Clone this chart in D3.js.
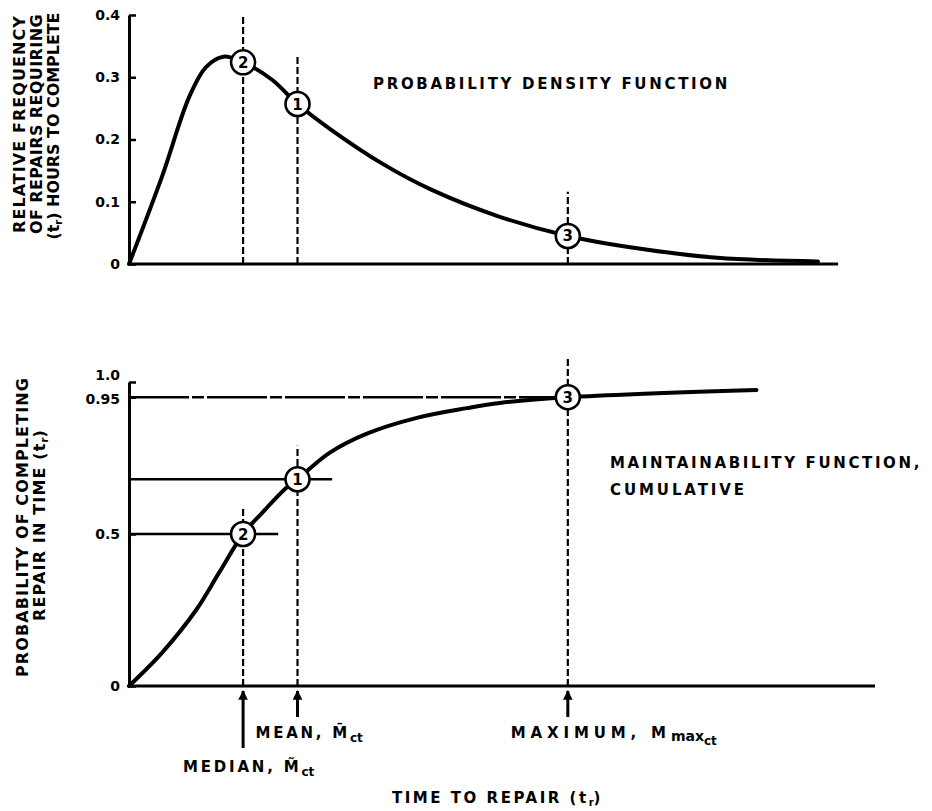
<!DOCTYPE html>
<html>
<head>
<meta charset="utf-8">
<script src="https://cdn.jsdelivr.net/npm/d3@7"></script>
<style>
  body { margin: 0; background: #fff; }
  text { font-family: "DejaVu Sans", "Liberation Sans", sans-serif; font-weight: bold; fill: #000; }
</style>
</head>
<body>
<svg id="chart" width="932" height="811"></svg>
<script>
// time to repair (arbitrary units) and the two functions
const pdfTime  = [0, 0.75, 1.37, 1.75, 2.15, 2.6, 3.26, 3.84, 4.56, 5.8, 6.9, 8.4, 10, 11.5, 13.4, 15.7];
const pdfValue = [0, 0.14, 0.268, 0.316, 0.333, 0.324, 0.296, 0.257, 0.218, 0.16, 0.119, 0.077, 0.045, 0.026, 0.01, 0.004];

const cdfTime  = [0, 0.75, 1.53, 2.05, 2.6, 3.03, 3.58, 3.84, 4.56, 5.42, 6.56, 7.7, 8.45, 10, 14.3];
const cdfValue = [0, 0.109, 0.25, 0.372, 0.5, 0.569, 0.651, 0.68, 0.766, 0.83, 0.882, 0.914, 0.931, 0.95, 0.974];

// marked points: median (2), mean (1), maximum (3)
const markerId   = ["2", "1", "3"];
const markerTime = [2.6, 3.84, 10];
const markerPdf  = [0.324, 0.257, 0.045];
const markerCdf  = [0.5, 0.68, 0.95];
const guideTopPdf = [0.4, 0.335, 0.116];
const guideTopCdf = [0.59, 0.79, 1.08];
const levelEnd    = [3.4, 4.63, 10];

const pdfTicks = [0, 0.1, 0.2, 0.3, 0.4];
const pdfTickLabels = ["0", "0.1", "0.2", "0.3", "0.4"];
const cdfTicks = [0, 0.5, 0.95, 1.0];
const cdfTickLabels = ["0", "0.5", "0.95", "1.0"];

const svg = d3.select("#chart");

// scales
const x = d3.scaleLinear().domain([0, 17]).range([129, 875]);
const yTop = d3.scaleLinear().domain([0, 0.4]).range([264, 15]);
const yBot = d3.scaleLinear().domain([0, 1]).range([686, 382]);

svg.append("defs").append("marker")
  .attr("id", "arrow")
  .attr("viewBox", "0 0 10 10")
  .attr("refX", 9).attr("refY", 5)
  .attr("markerWidth", 4).attr("markerHeight", 3.2)
  .attr("markerUnits", "strokeWidth")
  .attr("orient", "auto")
  .append("path").attr("d", "M0,0 L10,5 L0,10 z").attr("fill", "#000");

// y axes with inward ticks
function drawAxis(scale, ticks, labels) {
  const g = svg.append("g")
    .attr("transform", `translate(${x(0)},0)`)
    .call(d3.axisLeft(scale).tickValues(ticks)
      .tickFormat((d, i) => labels[i])
      .tickSizeInner(-7).tickSizeOuter(0).tickPadding(9));
  g.select(".domain").attr("stroke", "#000").attr("stroke-width", 3);
  g.selectAll(".tick line").attr("stroke", "#000").attr("stroke-width", 2.5);
  g.selectAll(".tick text")
    .style("font-family", "'DejaVu Sans', sans-serif")
    .style("font-weight", "bold").style("font-size", "14px");
  return g;
}
drawAxis(yTop, pdfTicks, pdfTickLabels);
const botAxis = drawAxis(yBot, cdfTicks, cdfTickLabels);
botAxis.selectAll(".tick text").filter(d => d === 1).attr("dy", "-0.2em");
botAxis.selectAll(".tick text").filter(d => d === 0.95).attr("dy", "0.45em");

// baselines
svg.append("line")
  .attr("x1", x(0)).attr("x2", x(16.16))
  .attr("y1", yTop(0)).attr("y2", yTop(0))
  .attr("stroke", "#000").attr("stroke-width", 3);
svg.append("line")
  .attr("x1", x(0)).attr("x2", x(17))
  .attr("y1", yBot(0)).attr("y2", yBot(0))
  .attr("stroke", "#000").attr("stroke-width", 3);

// dashed guides and level lines
markerTime.forEach((t, i) => {
  svg.append("line")
    .attr("x1", x(t)).attr("x2", x(t))
    .attr("y1", yTop(0)).attr("y2", yTop(guideTopPdf[i]))
    .attr("stroke", "#000").attr("stroke-width", 2.2).attr("stroke-dasharray", "7,3");
  svg.append("line")
    .attr("x1", x(t)).attr("x2", x(t))
    .attr("y1", yBot(0)).attr("y2", yBot(guideTopCdf[i]))
    .attr("stroke", "#000").attr("stroke-width", 2.2).attr("stroke-dasharray", "7,3");
  svg.append("line")
    .attr("x1", x(0)).attr("x2", x(levelEnd[i]))
    .attr("y1", yBot(markerCdf[i])).attr("y2", yBot(markerCdf[i]))
    .attr("stroke", "#000").attr("stroke-width", 2.4)
    .attr("stroke-dasharray", i === 2 ? "60,3,12,3" : null);
});

// curves
const pdfLine = d3.line()
  .x(i => x(pdfTime[i])).y(i => yTop(pdfValue[i]))
  .curve(d3.curveCatmullRom.alpha(0.5));
svg.append("path")
  .attr("d", pdfLine(d3.range(pdfTime.length)))
  .attr("fill", "none").attr("stroke", "#000").attr("stroke-width", 4)
  .attr("stroke-linecap", "round");

const cdfLine = d3.line()
  .x(i => x(cdfTime[i])).y(i => yBot(cdfValue[i]))
  .curve(d3.curveCatmullRom.alpha(0.5));
svg.append("path")
  .attr("d", cdfLine(d3.range(cdfTime.length)))
  .attr("fill", "none").attr("stroke", "#000").attr("stroke-width", 4)
  .attr("stroke-linecap", "round");

// numbered circles
function marker(cx, cy, label) {
  svg.append("circle").attr("cx", cx).attr("cy", cy).attr("r", 12)
    .attr("fill", "#fff").attr("stroke", "#000").attr("stroke-width", 2.6);
  svg.append("text").attr("x", cx).attr("y", cy + 5.5)
    .attr("text-anchor", "middle").style("font-size", "15px").text(label);
}
markerTime.forEach((t, i) => {
  marker(x(t), yTop(markerPdf[i]), markerId[i]);
  marker(x(t), yBot(markerCdf[i]), markerId[i]);
});

// arrows under the time axis
const arrowLen = [62, 31, 31];
markerTime.forEach((t, i) => {
  svg.append("line")
    .attr("x1", x(t)).attr("x2", x(t))
    .attr("y1", yBot(0) + arrowLen[i]).attr("y2", yBot(0) + 5)
    .attr("stroke", "#000").attr("stroke-width", 3)
    .attr("marker-end", "url(#arrow)");
});

// text with letter spacing fitted to a target width; subscripts are not spaced
function fitText(t, parts, width) {
  const spaced = [];
  parts.forEach(p => {
    const s = t.append("tspan").text(p.t);
    if (p.dy) s.attr("dy", p.dy);
    if (p.fs) s.style("font-size", p.fs + "px");
    if (!p.fs) spaced.push(s);
  });
  const natural = t.node().getComputedTextLength();
  const n = d3.sum(spaced, s => s.text().length);
  const ls = (width - natural) / n;
  spaced.forEach(s => s.style("letter-spacing", ls + "px"));
  return t;
}

function label(tx, ty, parts, size, width) {
  const t = svg.append("text").attr("x", tx).attr("y", ty).style("font-size", size + "px");
  return fitText(t, parts, width);
}

label(373, 89, [{ t: "PROBABILITY DENSITY FUNCTION" }], 15, 357);
label(610, 468, [{ t: "MAINTAINABILITY FUNCTION," }], 15, 312);
label(610, 495, [{ t: "CUMULATIVE" }], 15, 137);

label(x(markerTime[1]) - 42, yBot(0) + 52,
  [{ t: "MEAN, M\u0304" }, { t: "ct", dy: 4, fs: 12 }], 15, 110);
label(x(markerTime[0]) - 60, yBot(0) + 86,
  [{ t: "MEDIAN, M\u0303" }, { t: "ct", dy: 4, fs: 12 }], 15, 134);
label(x(markerTime[2]) - 57, yBot(0) + 52,
  [{ t: "MAXIMUM, M" }, { t: "max", dy: 3, fs: 14 }, { t: "ct", dy: 4, fs: 12 }], 15, 206);
label(392, 803,
  [{ t: "TIME TO REPAIR (t" }, { t: "r", dy: 3, fs: 10 }, { t: ")", dy: -3 }], 15, 211);

// rotated y titles
function vTitle(bx, cy, parts, width) {
  const t = svg.append("text")
    .attr("transform", `translate(${bx},${cy}) rotate(-90)`)
    .attr("text-anchor", "middle").style("font-size", "16px");
  fitText(t, parts, width);
}
vTitle(25, 124, [{ t: "RELATIVE FREQUENCY" }], 218);
vTitle(42, 124, [{ t: "OF REPAIRS REQUIRING" }], 220);
vTitle(59, 126, [{ t: "(t" }, { t: "r", dy: 3, fs: 10 }, { t: ") HOURS TO COMPLETE", dy: -3 }], 227);

vTitle(28, 527, [{ t: "PROBABILITY OF COMPLETING" }], 300);
vTitle(45, 525, [{ t: "REPAIR IN TIME (t" }, { t: "r", dy: 3, fs: 10 }, { t: ")", dy: -3 }], 192);
</script>
</body>
</html>
